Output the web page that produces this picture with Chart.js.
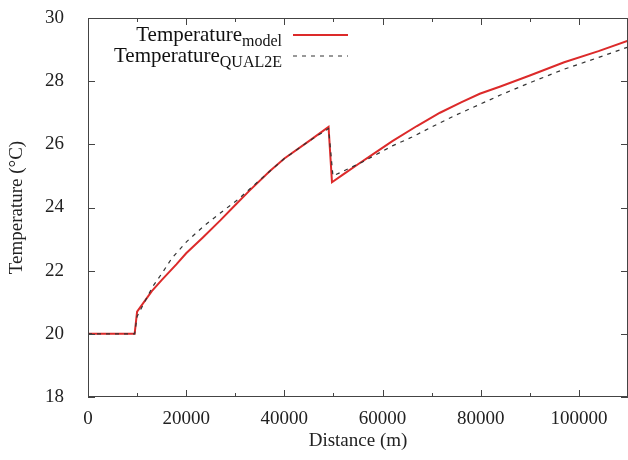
<!DOCTYPE html>
<html lang="en">
<head>
  <meta charset="UTF-8">
  <title>Temperature vs Distance</title>
  <script src="https://cdn.jsdelivr.net/npm/chart.js"></script>
  <style>
    body {
      margin: 0;
      background: #fff;
    }
    .wrap {
      width: 628px;
      height: 460px;
    }
  </style>
</head>
<body>
  <div class="wrap">
    <canvas id="tempChart" width="628" height="460"></canvas>
  </div>

  <script>
    // model run
    const modelX = [0, 9500, 10000, 13000, 15000, 18000, 20000, 23400, 27000, 30000, 33000, 37000, 40000, 45000, 49000,
                    49700, 52000, 55000, 57400, 62000, 67000, 71700, 76000, 79800, 84000, 90000, 97000, 104000, 110000];
    const modelT = [20, 20, 20.7, 21.35, 21.7, 22.2, 22.55, 23.05, 23.6, 24.08, 24.55, 25.15, 25.55, 26.1, 26.55,
                    24.8, 25.05, 25.37, 25.62, 26.1, 26.58, 27.0, 27.33, 27.6, 27.83, 28.18, 28.6, 28.95, 29.28];

    // QUAL2E run
    const qualX = [0, 9500, 10000, 11000, 13200, 15300, 17100, 20100, 23500, 26900, 30600, 35000, 40000, 45000, 49000,
                   49900, 52000, 56000, 62000, 66000, 70300, 75000, 80000, 84000, 90000, 97000, 104000, 110000];
    const qualT = [20, 20, 20.55, 20.85, 21.5, 21.97, 22.4, 22.92, 23.4, 23.82, 24.26, 24.87, 25.55, 26.1, 26.5,
                   25.0, 25.15, 25.45, 25.95, 26.23, 26.57, 26.93, 27.28, 27.56, 27.95, 28.38, 28.75, 29.08];

    const xTicks = [0, 20000, 40000, 60000, 80000, 100000];
    const yTicks = [18, 20, 22, 24, 26, 28, 30];

    const serif = "'Liberation Serif', 'DejaVu Serif', serif";

    function toPoints(xs, ys) {
      return xs.map((x, i) => ({ x: x, y: ys[i] }));
    }

    // gnuplot-style frame with inward ticks
    const framePlugin = {
      id: 'frame',
      afterDatasetsDraw(chart) {
        const { ctx, chartArea: a, scales } = chart;
        ctx.save();
        ctx.strokeStyle = '#444';
        ctx.lineWidth = 1;
        ctx.strokeRect(a.left + 0.5, a.top + 0.5, a.right - a.left - 1, a.bottom - a.top - 1);
        ctx.beginPath();
        for (let v = 0; v <= 110000; v += 10000) {
          const px = Math.round(scales.x.getPixelForValue(v)) + 0.5;
          const len = v % 20000 === 0 ? 7 : 4;
          ctx.moveTo(px, a.bottom); ctx.lineTo(px, a.bottom - len);
          ctx.moveTo(px, a.top); ctx.lineTo(px, a.top + len);
        }
        yTicks.forEach(v => {
          const py = Math.round(scales.y.getPixelForValue(v)) + 0.5;
          ctx.moveTo(a.left, py); ctx.lineTo(a.left + 7, py);
          ctx.moveTo(a.right, py); ctx.lineTo(a.right - 7, py);
        });
        ctx.stroke();
        ctx.restore();
      }
    };

    // legend with subscripts
    const legendPlugin = {
      id: 'subLegend',
      afterDraw(chart) {
        const ctx = chart.ctx;
        const rows = [
          { main: 'Temperature', sub: 'model', y: 41, color: '#dc2a2a', dash: [], width: 2 },
          { main: 'Temperature', sub: 'QUAL2E', y: 62, color: '#333', dash: [4, 5], width: 1 }
        ];
        const textRight = 282;
        ctx.save();
        rows.forEach(r => {
          ctx.font = '21px ' + serif;
          const mw = ctx.measureText(r.main).width;
          ctx.font = '16px ' + serif;
          const sw = ctx.measureText(r.sub).width;
          const x0 = textRight - mw - sw;
          ctx.fillStyle = '#111';
          ctx.textBaseline = 'alphabetic';
          ctx.textAlign = 'left';
          ctx.font = '21px ' + serif;
          ctx.fillText(r.main, x0, r.y);
          ctx.font = '16px ' + serif;
          ctx.fillText(r.sub, x0 + mw, r.y + 5);
          ctx.strokeStyle = r.color;
          ctx.lineWidth = r.width;
          ctx.setLineDash(r.dash);
          ctx.beginPath();
          ctx.moveTo(293, r.y - 6);
          ctx.lineTo(348, r.y - 6);
          ctx.stroke();
        });
        ctx.restore();
      }
    };

    new Chart(document.getElementById('tempChart'), {
      type: 'line',
      data: {
        datasets: [
          {
            label: 'Temperature model',
            data: toPoints(modelX, modelT),
            borderColor: '#dc2a2a',
            borderWidth: 2,
            pointRadius: 0,
            tension: 0,
            order: 2
          },
          {
            label: 'Temperature QUAL2E',
            data: toPoints(qualX, qualT),
            borderColor: '#333',
            borderWidth: 1.2,
            borderDash: [4, 5],
            pointRadius: 0,
            tension: 0,
            order: 1
          }
        ]
      },
      options: {
        responsive: false,
        animation: false,
        layout: { padding: { top: 18, right: 0, left: 0, bottom: 0 } },
        plugins: {
          legend: { display: false },
          tooltip: { enabled: false }
        },
        scales: {
          x: {
            type: 'linear',
            min: 0,
            max: 110000,
            grid: { display: false },
            border: { display: false },
            afterBuildTicks: s => { s.ticks = xTicks.map(v => ({ value: v })); },
            afterFit: s => { s.height = 63; },
            ticks: {
              color: '#222',
              font: { family: serif, size: 19 },
              padding: 3,
              maxRotation: 0,
              autoSkip: false,
              callback: v => String(v)
            },
            title: {
              display: true,
              text: 'Distance (m)',
              color: '#222',
              font: { family: serif, size: 19 },
              padding: { top: 0, bottom: 8 }
            }
          },
          y: {
            min: 18,
            max: 30,
            grid: { display: false },
            border: { display: false },
            afterBuildTicks: s => { s.ticks = yTicks.map(v => ({ value: v })); },
            afterFit: s => {
              s.width = 88;
              s.paddingTop = 0;
              s.paddingBottom = 0;
            },
            ticks: {
              color: '#222',
              font: { family: serif, size: 19 },
              padding: 16,
              callback: v => String(v)
            },
            title: {
              display: true,
              text: 'Temperature (°C)',
              color: '#222',
              font: { family: serif, size: 19 },
              padding: { top: 6, bottom: 0 }
            }
          }
        }
      },
      plugins: [framePlugin, legendPlugin]
    });
  </script>
</body>
</html>
